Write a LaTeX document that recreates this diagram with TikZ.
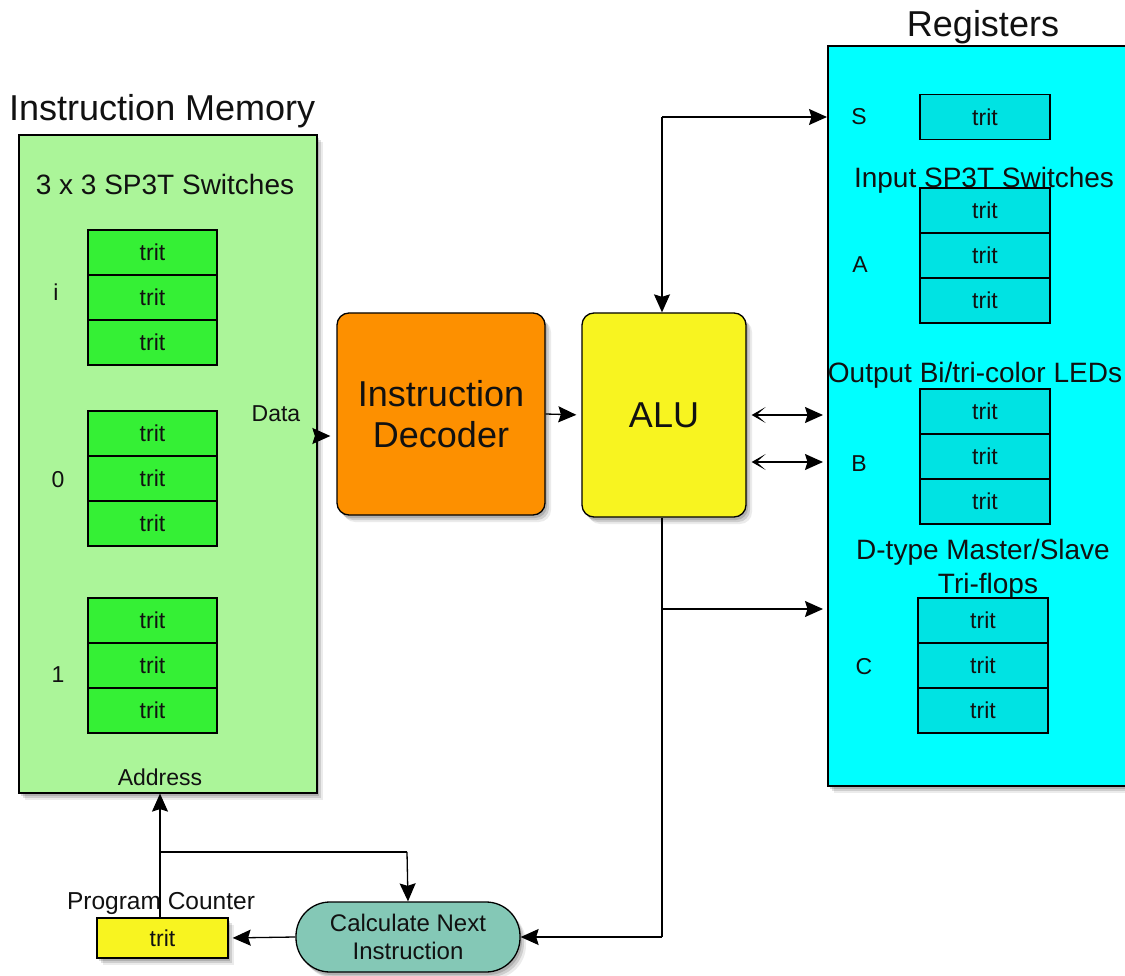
\documentclass[tikz,border=0pt]{standalone}
\usepackage{fontspec}
\setmainfont{Liberation Sans}
\usetikzlibrary{arrows.meta,shadows,calc}

\definecolor{memgreen}{HTML}{ABF599}
\definecolor{tritgreen}{HTML}{35F035}
\definecolor{decorange}{HTML}{FD9000}
\definecolor{aluyellow}{HTML}{F8F420}
\definecolor{regcyan}{HTML}{00FFFF}
\definecolor{tritcyan}{HTML}{00E3E3}
\definecolor{calcteal}{HTML}{84C8B6}
\definecolor{inkcol}{HTML}{111111}

\newcommand{\fsTitle}{\fontsize{36}{40}\selectfont}
\newcommand{\fsMid}{\fontsize{28}{32}\selectfont}
\newcommand{\fsSmall}{\fontsize{23}{26}\selectfont}
\newcommand{\fsCalc}{\fontsize{24}{27}\selectfont}

\tikzset{
  % layered shadow for a soft edge
  softshadow/.style={
    drop shadow={shadow xshift=2pt, shadow yshift=-3pt, opacity=0.14, fill=black},
    drop shadow={shadow xshift=4pt, shadow yshift=-5pt, opacity=0.12, fill=black},
    drop shadow={shadow xshift=6pt, shadow yshift=-7pt, opacity=0.08, fill=black}},
  panel/.style={draw=black, line width=1.6pt, anchor=north west, inner sep=0pt, softshadow},
  block/.style={draw=black, line width=1.3pt, rounded corners=12pt, inner sep=0pt,
    align=center, text=inkcol, font=\fsTitle, softshadow},
  tritL/.style={draw=black, line width=1.3pt, fill=tritgreen, minimum width=129pt,
    minimum height=45pt, inner sep=0pt, text=inkcol, font=\fsSmall},
  tritR/.style={tritL, fill=tritcyan, minimum width=130pt},
  lbl/.style={anchor=base, inner sep=0pt, text=inkcol, font=\fsSmall},
  mlbl/.style={anchor=base, inner sep=0pt, text=inkcol, font=\fsMid},
  tlbl/.style={anchor=base, inner sep=0pt, text=inkcol, font=\fsTitle},
  wire/.style={line width=1.3pt, draw=black},
  headtip/.tip={Stealth[length=18pt,width=16pt,inset=2.5pt]},
  backtip/.tip={Stealth[length=14pt,width=16pt,inset=9pt]},
  arr/.style={wire, -headtip},
  biarr/.style={wire, backtip-headtip}
}

\begin{document}
\begin{tikzpicture}[x=1pt,y=-1pt]
\useasboundingbox[fill=white] (0,0) rectangle (1125,976);

% ---------- Instruction memory ----------
\node[panel, fill=memgreen, minimum width=298pt, minimum height=658pt] (mem) at (18,134) {};
\node[tlbl, anchor=base west] (memtitle) at (9,121) {Instruction Memory};
\node[mlbl] (memsub) at (165,195) {3 x 3 SP3T Switches};

\node[tritL] (i1) at (152.5,252.5) {trit};
\node[tritL] (i2) at (152.5,297.5) {trit};
\node[tritL] (i3) at (152.5,342.5) {trit};
\node[lbl] (ilbl) at (56,301) {i};

\node[tritL] (z1) at (152.5,433.5) {trit};
\node[tritL] (z2) at (152.5,478.5) {trit};
\node[tritL] (z3) at (152.5,523.5) {trit};
\node[lbl] (zlbl) at (58,487) {0};

\node[tritL] (o1) at (152.5,620.5) {trit};
\node[tritL] (o2) at (152.5,665.5) {trit};
\node[tritL] (o3) at (152.5,710.5) {trit};
\node[lbl] (olbl) at (58,682) {1};

\node[lbl] (datalbl) at (276,421) {Data};
\node[lbl] (addrlbl) at (160,785) {Address};

% ---------- Decoder and ALU ----------
\node[block, fill=decorange, minimum width=208pt, minimum height=202pt] (dec) at (441,414) {Instruction\\[1pt]Decoder};
\node[block, fill=aluyellow, minimum width=164pt, minimum height=204pt] (alu) at (664,415) {ALU};

% ---------- Registers ----------
\node[panel, fill=regcyan, minimum width=300pt, minimum height=740pt] (reg) at (827,45) {};
\node[tlbl] (regtitle) at (983,37) {Registers};

\node[tritR] (s1) at (985,117) {trit};
\node[lbl] (slbl) at (859,125) {S};

\node[mlbl] (insub) at (984,188) {Input SP3T Switches};
\node[tritR] (a1) at (985,210.5) {trit};
\node[tritR] (a2) at (985,255.5) {trit};
\node[tritR] (a3) at (985,300.5) {trit};
\node[lbl] (albl) at (860,273) {A};

\node[mlbl] (outsub) at (975,382) {Output Bi/tri-color LEDs};
\node[tritR] (b1) at (985,411.5) {trit};
\node[tritR] (b2) at (985,456.5) {trit};
\node[tritR] (b3) at (985,501.5) {trit};
\node[lbl] (blbl) at (859,471) {B};

\node[mlbl] (dsub1) at (983,559) {D-type Master/Slave};
\node[mlbl] (dsub2) at (988,593) {Tri-flops};
\node[tritR] (c1) at (983,620.5) {trit};
\node[tritR] (c2) at (983,665.5) {trit};
\node[tritR] (c3) at (983,710.5) {trit};
\node[lbl] (clbl) at (864,674) {C};

% ---------- Program counter and next-instruction logic ----------
\node[draw=black, line width=1.3pt, fill=aluyellow, minimum width=131pt, minimum height=40pt,
  inner sep=0pt, text=inkcol, font=\fsSmall, softshadow] (pc) at (162.5,938) {trit};
\node[draw=black, line width=1.3pt, fill=calcteal, minimum width=224pt, minimum height=70pt,
  rounded corners=34pt, inner sep=0pt, align=center, text=inkcol, font=\fsCalc, softshadow]
  (calc) at (408,937) {Calculate Next\\[1pt]Instruction};

\coordinate (aluup) at (662,117);
\coordinate (aludown) at (662,937);
\coordinate (alutoc) at (662,609);
\coordinate (pcsplit) at (160,852);
\coordinate (calcin) at (407,852);

% ---------- Connectors ----------
\draw[arr, shorten >=6pt] ([yshift=-22pt]dec.west -| mem.east) -- ([yshift=-22pt]dec.west);
\draw[arr, shorten >=5pt] (dec.east) -- (alu.west);

\draw[arr] (aluup) -- (aluup -| reg.west);
\draw[arr] (aluup) -- (aluup |- alu.north);

\draw[biarr] ([xshift=5pt]alu.east) -- ([xshift=-4pt]alu.east -| reg.west);
\draw[biarr] ([xshift=5pt,yshift=-47pt]alu.east) -- ([xshift=-4pt,yshift=-47pt]alu.east -| reg.west);

\draw[wire] (aluup |- alu.south) -- (aludown);
\draw[arr] (aludown) -- (calc.east);
\draw[arr, shorten >=4pt] (alutoc) -- (alutoc -| reg.west);

\draw[arr, shorten >=4pt] (calc.west) -- (pc.east);
\draw[arr] (pc.north -| pcsplit) -- (pcsplit |- mem.south);
\draw[wire] (pcsplit) -- (calcin);
\draw[arr] (calcin) -- (calc.north);

\node[lbl, font=\fontsize{24.5}{27}\selectfont] (pclbl) at (161,909) {Program Counter};
\end{tikzpicture}
\end{document}
